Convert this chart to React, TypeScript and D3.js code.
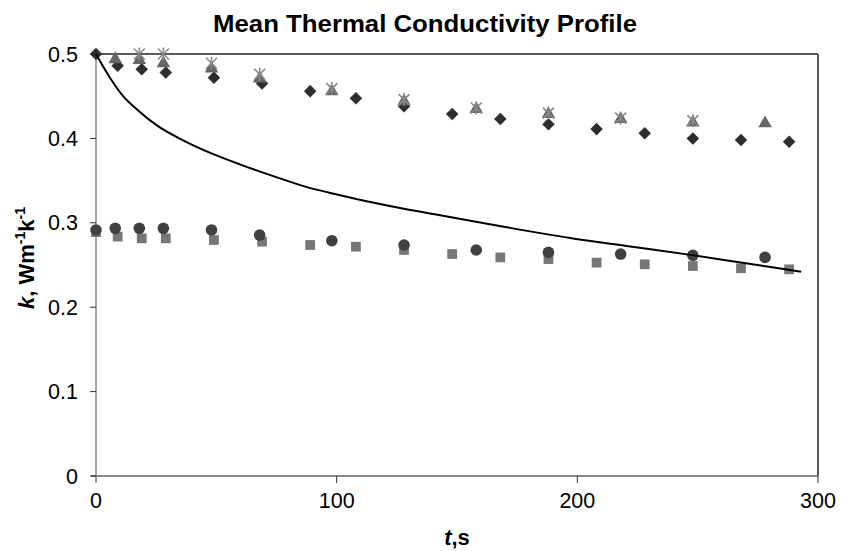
import React from "react";
import * as d3 from "d3";

const xTicks = [0, 100, 200, 300];
const yTicks = [0, 0.1, 0.2, 0.3, 0.4, 0.5];

const diamondT = [0, 9, 19, 29, 49, 69, 89, 108, 128, 148, 168, 188, 208, 228, 248, 268, 288];
const diamondK = [0.5, 0.486, 0.482, 0.478, 0.472, 0.465, 0.456, 0.4475, 0.438, 0.429, 0.423, 0.4167, 0.411, 0.406, 0.4, 0.398, 0.396];

const squareT = [0, 9, 19, 29, 49, 69, 89, 108, 128, 148, 168, 188, 208, 228, 248, 268, 288];
const squareK = [0.289, 0.2836, 0.2816, 0.2816, 0.2796, 0.2776, 0.2737, 0.2717, 0.2678, 0.263, 0.259, 0.257, 0.2528, 0.2508, 0.2488, 0.2461, 0.2449];

const triangleT = [8, 18, 28, 48, 68, 98, 128, 158, 188, 218, 248, 278];
const triangleK = [0.495, 0.494, 0.49, 0.484, 0.472, 0.457, 0.445, 0.436, 0.43, 0.424, 0.42, 0.419];

const starT = [18, 28, 48, 68, 98, 128, 158, 188, 218, 248];
const starK = [0.5, 0.5, 0.489, 0.476, 0.459, 0.446, 0.436, 0.43, 0.424, 0.421];

const circleT = [0, 8, 18, 28, 48, 68, 98, 128, 158, 188, 218, 248, 278];
const circleK = [0.2915, 0.2934, 0.2934, 0.2934, 0.2915, 0.2855, 0.2788, 0.2737, 0.2678, 0.265, 0.263, 0.2615, 0.259];

const lineT = [0, 6, 11, 18, 25, 36, 49, 60, 74, 88, 101, 115, 129, 143, 170, 197, 222, 247, 270, 293];
const lineK = [0.5, 0.471, 0.451, 0.432, 0.416, 0.398, 0.381, 0.369, 0.355, 0.342, 0.333, 0.324, 0.316, 0.309, 0.295, 0.282, 0.272, 0.262, 0.252, 0.242];

const W = 841;
const H = 551;
const FONT = "'Liberation Sans', Arial, sans-serif";

export default function App() {
  const x = d3.scaleLinear().domain([0, 300]).range([96, 818]);
  const y = d3.scaleLinear().domain([0, 0.5]).range([476, 54]);

  const lineGen = d3
    .line<number>()
    .x((_, i) => x(lineT[i]))
    .y((d) => y(d))
    .curve(d3.curveMonotoneX);

  const diamond = d3.symbol().type(d3.symbolDiamond2).size(100)();
  const square = d3.symbol().type(d3.symbolSquare).size(95)();
  const triangle = d3.symbol().type(d3.symbolTriangle).size(80)();

  return (
    <svg
      width={W}
      height={H}
      style={{ position: "absolute", left: 0, top: 0, background: "#fff" }}
      fontFamily={FONT}
    >
      <rect x={0} y={0} width={W} height={H} fill="#fff" />
      <text x={425} y={32} textAnchor="middle" fontSize={23} fontWeight="bold" fill="#000" textLength={424} lengthAdjust="spacingAndGlyphs">
        Mean Thermal Conductivity Profile
      </text>

      <line x1={x(0)} x2={x(300)} y1={y(0.5)} y2={y(0.5)} stroke="#222" strokeWidth={1.5} />
      <line x1={x(300)} x2={x(300)} y1={y(0.5)} y2={y(0)} stroke="#222" strokeWidth={1.5} />

      <line x1={x(0)} x2={x(0)} y1={y(0.5)} y2={y(0)} stroke="#888" strokeWidth={1.5} />
      <line x1={x(0) - 5} x2={x(300)} y1={y(0)} y2={y(0)} stroke="#888" strokeWidth={2} />

      {yTicks.map((t) => (
        <g key={"y" + t}>
          <line x1={x(0) - 6} x2={x(0)} y1={y(t)} y2={y(t)} stroke="#333" strokeWidth={1} />
          <text x={78} y={y(t) + 7.5} textAnchor="end" fontSize={21.5} fill="#000">
            {t === 0 ? "0" : t.toFixed(1)}
          </text>
        </g>
      ))}
      {xTicks.map((t) => (
        <g key={"x" + t}>
          <line x1={x(t)} x2={x(t)} y1={y(0)} y2={y(0) + 7} stroke="#333" strokeWidth={1} />
          <text x={x(t)} y={508} textAnchor="middle" fontSize={21.5} fill="#000">
            {t}
          </text>
        </g>
      ))}

      <text x={457} y={545} textAnchor="middle" fontSize={22} fontWeight="bold" fill="#000">
        <tspan fontStyle="italic">t</tspan>
        <tspan>,s</tspan>
      </text>
      <text
        transform={`translate(34, ${258}) rotate(-90)`}
        textAnchor="middle"
        fontSize={22}
        fontWeight="bold"
        fill="#000"
      >
        <tspan fontStyle="italic">k</tspan>
        <tspan>, Wm</tspan>
        <tspan fontSize={14} dy={-9}>-1</tspan>
        <tspan dy={9}>k</tspan>
        <tspan fontSize={14} dy={-9}>-1</tspan>
      </text>

      {diamondT.map((t, i) => (
        <path key={"d" + i} d={diamond!} transform={`translate(${x(t)},${y(diamondK[i])})`} fill="#2e2e2e" />
      ))}
      {squareT.map((t, i) => (
        <path key={"s" + i} d={square!} transform={`translate(${x(t)},${y(squareK[i])})`} fill="#777" />
      ))}
      {triangleT.map((t, i) => (
        <path key={"t" + i} d={triangle!} transform={`translate(${x(t)},${y(triangleK[i]) + 1})`} fill="#666" />
      ))}
      {starT.map((t, i) => {
        const cx = x(t);
        const cy = y(starK[i]);
        const r = 5.5;
        return (
          <g key={"st" + i} stroke="#888" strokeWidth={1.6}>
            <line x1={cx - r} x2={cx + r} y1={cy - r} y2={cy + r} />
            <line x1={cx - r} x2={cx + r} y1={cy + r} y2={cy - r} />
            <line x1={cx} x2={cx} y1={cy - r - 1} y2={cy + r + 1} />
          </g>
        );
      })}
      {circleT.map((t, i) => (
        <circle key={"c" + i} cx={x(t)} cy={y(circleK[i])} r={5.8} fill="#404040" />
      ))}

      <path d={lineGen(lineK) || ""} fill="none" stroke="#000" strokeWidth={2} />
    </svg>
  );
}
